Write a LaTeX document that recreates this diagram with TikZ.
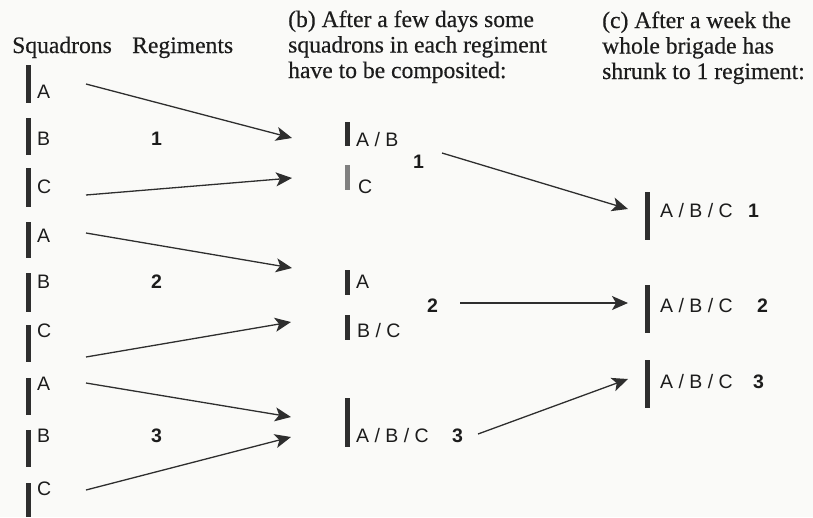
\documentclass[tikz,border=0pt]{standalone}
\usepackage{fontspec}
\setmainfont{Liberation Serif}
\newfontfamily\headfont{Liberation Serif}[FakeBold=0.4]
\newfontfamily\lblfont{Liberation Sans}
\usetikzlibrary{arrows.meta}

\definecolor{ink}{HTML}{1C1C1C}
\definecolor{barink}{HTML}{2E2E2E}
\definecolor{barpale}{HTML}{808080}
\definecolor{paper}{HTML}{FAFAF8}

\tikzset{
  head/.style={anchor=base west, inner sep=0pt, text=ink, align=left,
    font=\headfont\fontsize{23.6}{25.5}\selectfont},
  sq/.style={anchor=base west, inner sep=0pt, text=ink,
    font=\lblfont\fontsize{19.5}{22}\selectfont},
  num/.style={anchor=base west, inner sep=0pt, text=ink,
    font=\lblfont\bfseries\fontsize{19.5}{22}\selectfont},
  bar/.style={rectangle, draw=none, fill=barink, inner sep=0pt, minimum width=5pt},
  move/.style={draw=barink, line width=1.3pt,
    -{Stealth[length=16pt, width=14pt, inset=4pt, fill=barink]}},
}

% squadron bar: name, x, top, bottom
\newcommand\sqbar[5][]{%
  \node[bar, #1, minimum height={(#5-#4)*1pt}] (#2) at (#3, {(#4+#5)/2}) {};}

\begin{document}
\begin{tikzpicture}[x=1pt, y=-1pt]
\useasboundingbox[fill=paper] (0,0) rectangle (813,517);

% ---- headings (multi-line nodes sit on the baseline of their last line) ----
\node[head] (hsq)  at (12,53) {Squadrons};
\node[head] (hreg) at (132,53) {Regiments};
\node[head] (hb) at (288,78) {(b) After a few days some\\squadrons in each regiment\\have to be composited:};
\node[head] (hc) at (602,79) {(c) After a week the\\whole brigade has\\shrunk to 1 regiment:};

% ---- (a) three regiments of three squadrons ----
\sqbar{bA1}{28}{65}{103}   \node[sq] (lA1) at (37,98)  {A};
\sqbar{bB1}{28}{118}{155}  \node[sq] (lB1) at (37,145) {B};
\sqbar{bC1}{28}{168}{207}  \node[sq] (lC1) at (37,193) {C};
\sqbar{bA2}{28}{222}{258}  \node[sq] (lA2) at (37,242) {A};
\sqbar{bB2}{28}{273}{312}  \node[sq] (lB2) at (37,288) {B};
\sqbar{bC2}{28}{325}{362}  \node[sq] (lC2) at (37,337) {C};
\sqbar{bA3}{28}{378}{415}  \node[sq] (lA3) at (37,390) {A};
\sqbar{bB3}{28}{430}{467}  \node[sq] (lB3) at (37,442) {B};
\sqbar{bC3}{28}{483}{517}  \node[sq] (lC3) at (37,495) {C};

\node[num] (r1) at (151,145) {1};
\node[num] (r2) at (151,288) {2};
\node[num] (r3) at (151,442) {3};

% ---- (b) composited squadrons ----
\sqbar{bAB}{347.5}{122}{146}            \node[sq] (lAB) at (356,146) {A / B};
\sqbar[fill=barpale]{bCb}{347.5}{165}{190} \node[sq] (lCb) at (358,193) {C};
\node[num] (rb1) at (413,168) {1};
\sqbar{bAb}{347.5}{270}{295}            \node[sq] (lAb) at (356,288) {A};
\node[num] (rb2) at (427,312) {2};
\sqbar{bBC}{347.5}{315}{340}            \node[sq] (lBC) at (357,337) {B / C};
\sqbar{bABC}{347.5}{398}{447}           \node[sq] (lABC) at (356,442) {A / B / C};
\node[num] (rb3) at (452,442) {3};

% ---- (c) one regiment ----
\sqbar{bc1}{647.5}{192}{240} \node[sq] (lc1) at (660,217) {A / B / C};
\node[num] (rc1) at (748,217) {1};
\sqbar{bc2}{647.5}{285}{333} \node[sq] (lc2) at (660,312) {A / B / C};
\node[num] (rc2) at (757,312) {2};
\sqbar{bc3}{647.5}{360}{408} \node[sq] (lc3) at (660,388) {A / B / C};
\node[num] (rc3) at (753,388) {3};

% ---- arrow end points ----
\coordinate (sA1) at (86,84);   \coordinate (tAB)  at (292,138);
\coordinate (sC1) at (86,195);  \coordinate (tCb)  at (292,178);
\coordinate (sA2) at (86,233);  \coordinate (tAb)  at (292,268);
\coordinate (sC2) at (86,357);  \coordinate (tBC)  at (291,322);
\coordinate (sA3) at (86,383);  \coordinate (tABC) at (291,417);
\coordinate (sC3) at (86,490);  \coordinate (tABC2) at (291,437);
\coordinate (sb1) at (442,153); \coordinate (tc1)  at (628,209);
\coordinate (sb2) at (460,303); \coordinate (tc2)  at (628,303);
\coordinate (sb3) at (478,434); \coordinate (tc3)  at (628,379);

% ---- arrows ----
\draw[move] (sA1) -- (tAB);
\draw[move] (sC1) -- (tCb);
\draw[move] (sA2) -- (tAb);
\draw[move] (sC2) -- (tBC);
\draw[move] (sA3) -- (tABC);
\draw[move] (sC3) -- (tABC2);
\draw[move] (sb1) -- (tc1);
\draw[move] (sb2) -- (tc2);
\draw[move] (sb3) -- (tc3);
\end{tikzpicture}
\end{document}
